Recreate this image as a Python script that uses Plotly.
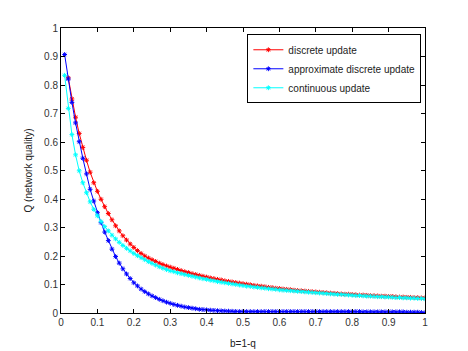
"""Network quality versus b=1-q for three update rules."""

import plotly.graph_objects as go

B_ALL = [round(0.01 * i, 2) for i in range(1, 101)]
B_DISCRETE = B_ALL[1:]

Q_DISCRETE = [
    0.825, 0.751, 0.687, 0.630, 0.581, 0.536, 0.494, 0.457, 0.427,
    0.399, 0.373, 0.349, 0.327, 0.306, 0.288, 0.271, 0.256, 0.242, 0.230,
    0.219, 0.209, 0.200, 0.193, 0.187, 0.181, 0.175, 0.170, 0.165, 0.161,
    0.157, 0.153, 0.149, 0.145, 0.142, 0.138, 0.135, 0.132, 0.129, 0.126,
    0.123, 0.121, 0.118, 0.116, 0.113, 0.111, 0.109, 0.107, 0.105, 0.103,
    0.101, 0.099, 0.097, 0.095, 0.094, 0.092, 0.090, 0.089, 0.087, 0.086,
    0.084, 0.083, 0.082, 0.080, 0.079, 0.078, 0.077, 0.076, 0.075, 0.074,
    0.073, 0.072, 0.071, 0.070, 0.069, 0.068, 0.067, 0.066, 0.066, 0.065,
    0.064, 0.063, 0.063, 0.062, 0.061, 0.061, 0.060, 0.059, 0.059, 0.058,
    0.058, 0.057, 0.056, 0.056, 0.055, 0.055, 0.054, 0.054, 0.053, 0.053,
]

Q_APPROX = [
    0.907, 0.821, 0.739, 0.667, 0.601, 0.543, 0.488, 0.434, 0.393, 0.352,
    0.317, 0.284, 0.254, 0.224, 0.198, 0.175, 0.155, 0.137, 0.121, 0.106,
    0.095, 0.084, 0.075, 0.067, 0.060, 0.054, 0.048, 0.043, 0.038, 0.034,
    0.030, 0.027, 0.024, 0.021, 0.019, 0.017, 0.015, 0.013, 0.012, 0.011,
    0.010, 0.009, 0.008, 0.0075, 0.007, 0.0065, 0.006, 0.0055, 0.005, 0.005,
    0.005, 0.005, 0.005, 0.005, 0.005, 0.005, 0.005, 0.005, 0.005, 0.005,
    0.005, 0.005, 0.005, 0.005, 0.005, 0.005, 0.005, 0.005, 0.005, 0.005,
    0.005, 0.005, 0.005, 0.005, 0.005, 0.005, 0.005, 0.005, 0.005, 0.005,
    0.005, 0.005, 0.004, 0.004, 0.004, 0.004, 0.004, 0.004, 0.004, 0.004,
    0.004, 0.004, 0.004, 0.004, 0.003, 0.003, 0.003, 0.003, 0.002, 0.001,
]

Q_CONTINUOUS = [
    0.834, 0.718, 0.626, 0.555, 0.499, 0.457, 0.422, 0.390, 0.364, 0.341,
    0.321, 0.303, 0.288, 0.273, 0.260, 0.248, 0.237, 0.227, 0.218, 0.209,
    0.201, 0.194, 0.187, 0.180, 0.174, 0.168, 0.162, 0.157, 0.152, 0.148,
    0.145, 0.141, 0.138, 0.135, 0.132, 0.129, 0.126, 0.123, 0.120, 0.118,
    0.115, 0.113, 0.110, 0.108, 0.106, 0.104, 0.102, 0.100, 0.098, 0.096,
    0.094, 0.093, 0.091, 0.090, 0.088, 0.087, 0.085, 0.084, 0.083, 0.081,
    0.080, 0.079, 0.078, 0.077, 0.076, 0.075, 0.074, 0.073, 0.072, 0.071,
    0.070, 0.069, 0.068, 0.067, 0.066, 0.065, 0.065, 0.064, 0.063, 0.062,
    0.061, 0.061, 0.060, 0.059, 0.059, 0.058, 0.057, 0.057, 0.056, 0.056,
    0.055, 0.054, 0.054, 0.053, 0.053, 0.052, 0.052, 0.051, 0.051, 0.050,
]

SERIES = [
    ("discrete update", B_DISCRETE, Q_DISCRETE, "#ff0000"),
    ("approximate discrete update", B_ALL, Q_APPROX, "#0000ff"),
    ("continuous update", B_ALL, Q_CONTINUOUS, "#00ffff"),
]

fig = go.Figure()
for name, xs, ys, color in SERIES:
    fig.add_trace(
        go.Scatter(
            x=xs,
            y=ys,
            name=name,
            mode="lines+markers",
            line=dict(color=color, width=1),
            marker=dict(symbol="asterisk-open", size=4, color=color,
                        line=dict(color=color, width=1)),
        )
    )

axis_style = dict(
    range=[0, 1],
    dtick=0.1,
    tick0=0,
    showline=True,
    linecolor="black",
    linewidth=1,
    mirror="ticks",
    ticks="inside",
    ticklen=4,
    tickcolor="black",
    showgrid=False,
    zeroline=False,
    automargin=False,
    tickfont=dict(size=10, color="#333"),
)

fig.update_xaxes(**axis_style, title=dict(text="b=1-q", font=dict(size=10), standoff=12))
fig.update_yaxes(**axis_style, title=dict(text="Q (network quality)", font=dict(size=10), standoff=9))

# page body adds an 8px offset, so the figure is 8px smaller than the window
fig.update_layout(
    width=460,
    height=343,
    margin=dict(l=53, r=43, t=20, b=38),
    paper_bgcolor="white",
    plot_bgcolor="white",
    font=dict(family="Liberation Sans, Arial, sans-serif", color="#222"),
    legend=dict(
        x=0.99,
        y=0.978,
        xanchor="right",
        yanchor="top",
        bordercolor="black",
        borderwidth=1,
        bgcolor="white",
        font=dict(size=10),
        itemwidth=30,
        tracegroupgap=0,
    ),
)

fig.write_html("out.html")
